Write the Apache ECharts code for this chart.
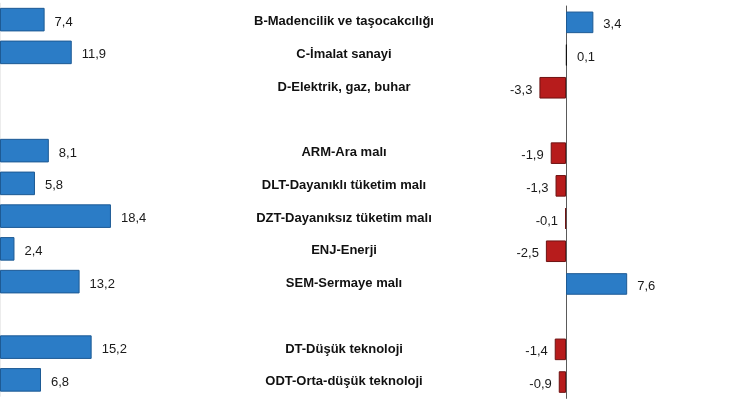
<!DOCTYPE html>
<html>
<head>
<meta charset="utf-8">
<script src="https://cdn.jsdelivr.net/npm/echarts@6/dist/echarts.min.js"></script>
<style>
html,body{margin:0;padding:0;background:#fff;}
#c{width:740px;height:400px;}
</style>
</head>
<body>
<div id="c"></div>
<script>
var categories = ['B-Madencilik ve taşocakcılığı','C-İmalat sanayi','D-Elektrik, gaz, buhar','','ARM-Ara malı','DLT-Dayanıklı tüketim malı','DZT-Dayanıksız tüketim malı','ENJ-Enerji','SEM-Sermaye malı','','DT-Düşük teknoloji','ODT-Orta-düşük teknoloji'];
var leftValues = [7.4, 11.9, null, null, 8.1, 5.8, 18.4, 2.4, 13.2, null, 15.2, 6.8];
var rightValues = [3.4, 0.1, -3.3, null, -1.9, -1.3, -0.1, -2.5, 7.6, null, -1.4, -0.9];

var BLUE = '#2b7cc6', BLUE_B = '#1d5a94', RED = '#b71c1c', RED_B = '#6e1212';
function fmt(v){ return String(v).replace('.', ','); }

var rightData = rightValues.map(function(v){
  if (v === null) return null;
  var neg = v < 0;
  return {
    value: v,
    itemStyle: { color: neg ? RED : BLUE, borderColor: neg ? RED_B : (v < 0.5 ? '#111' : BLUE_B), borderWidth: 1 },
    label: { position: neg ? 'left' : 'right', distance: neg ? 7 : 10 }
  };
});

var chart = echarts.init(document.getElementById('c'), null, {renderer: 'canvas'});
chart.setOption({
  backgroundColor: '#fff',
  animation: false,
  textStyle: { fontFamily: 'Liberation Sans, Arial, sans-serif' },
  grid: [
    { left: 0, top: 3.25, width: 120.6, height: 393, containLabel: false },
    { left: 501.6, top: 6, width: 128.8, height: 392.4, containLabel: false },
    { left: 0, top: 5.25, width: 120.6, height: 393, containLabel: false }
  ],
  xAxis: [
    { type: 'value', gridIndex: 0, min: 0, max: 20, show: false },
    { type: 'value', gridIndex: 1, min: -8, max: 8, show: false },
    { type: 'value', gridIndex: 2, min: 0, max: 20, show: false }
  ],
  yAxis: [
    { type: 'category', gridIndex: 0, data: categories, inverse: true,
      axisLine: { show: true, lineStyle: { color: '#ececec', width: 1 } },
      axisTick: { show: false }, axisLabel: { show: false }, splitLine: { show: false } },
    { type: 'category', gridIndex: 2, data: categories, inverse: true, position: 'right',
      axisLine: { show: false }, axisTick: { show: false }, splitLine: { show: false },
      axisLabel: { show: true, align: 'center', margin: 223.4, fontSize: 13, fontWeight: 'bold',
        color: '#111', fontFamily: 'Liberation Sans, Arial, sans-serif' } },
    { type: 'category', gridIndex: 1, data: categories, inverse: true,
      axisLine: { show: true, onZero: true, lineStyle: { color: '#5a5a5a', width: 1 } },
      axisTick: { show: false }, axisLabel: { show: false }, splitLine: { show: false } }
  ],
  series: [
    { type: 'bar', xAxisIndex: 0, yAxisIndex: 0, data: leftValues, barCategoryGap: '28%',
      itemStyle: { color: BLUE, borderColor: BLUE_B, borderWidth: 1 },
      label: { show: true, position: 'right', distance: 10, fontSize: 13, color: '#1a1a1a',
        offset: [0, 2.5], fontFamily: 'Liberation Sans, Arial, sans-serif',
        formatter: function(p){ return fmt(p.value); } } },
    { type: 'bar', xAxisIndex: 1, yAxisIndex: 2, data: rightData, barCategoryGap: '34%',
      label: { show: true, fontSize: 13, color: '#1a1a1a', offset: [0, 2.5],
        fontFamily: 'Liberation Sans, Arial, sans-serif',
        formatter: function(p){ return fmt(p.value); } } }
  ]
});
</script>
</body>
</html>
